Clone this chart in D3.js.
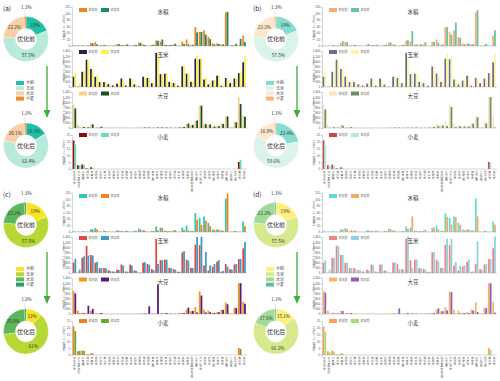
<!DOCTYPE html>
<html><head><meta charset="utf-8">
<script src="https://cdn.jsdelivr.net/npm/d3@7"></script>
<style>
body{margin:0;background:#fff}
text{font-family:"Noto Sans CJK SC","Noto Sans",sans-serif}
</style></head>
<body><svg id="c" width="500" height="381"></svg>
<script>
const categories = ["呼伦贝尔市","大兴安岭地区","兴安盟","通辽市","赤峰市","沈阳市","大连市","鞍山市","抚顺市","本溪市","丹东市","锦州市","营口市","阜新市","辽阳市","盘锦市","铁岭市","朝阳市","葫芦岛市","长春市","吉林市","四平市","辽源市","通化市","白山市","松原市","白城市","延边朝鲜族自治州","哈尔滨市","齐齐哈尔市","鸡西市","鹤岗市","双鸭山市","大庆市","伊春市","佳木斯市","七台河市","牡丹江市","黑河市","绥化市"];
const crops = ["水稻","玉米","大豆","小麦"];
const seriesNames = ["优化前","优化后"];
const panelLabels = ["(a)","(b)","(c)","(d)"];

const riceTicks = [0,20,40,60,80,100,120];
const maizeTicks = [0,200,400,600,800,1000,1200,1400];
const soyTicks = [0,200,400,600,800,1000,1200,1400];
const wheatTicks = [0,5,10,15,20,25];

const pieBefore = [19,57.5,22.2,1.3];
const pieAfterA = [16.3,62.4,20.1,1.2];
const pieAfterB = [22.4,59.6,16.8,1.1];
const pieAfterC = [12,61,25.8,1.2];
const pieAfterD = [15.1,66.2,17.6,1.1];

const riceBefore = [2,1,2,1,9,12,2,4,1,1,5,3,4,1,4,10,5,1,3,17,14,4,3,5,1,13,20,3,58,43,48,28,8,8,5,103,1,3,1,32];
const riceAfterA = [1,1,1,2,8,5,2,2,1,2,6,2,5,1,3,10,3,1,4,16,20,3,3,7,1,6,5,4,42,43,35,21,5,6,5,105,2,7,22,12];
const riceAfterB = [1,1,3,2,15,12,2,3,1,1,6,3,4,1,4,11,4,1,4,18,46,5,6,12,1,13,10,5,58,35,72,25,6,7,6,110,1,7,1,48];
const riceAfterC = [1,1,2,1,8,8,1,3,1,1,4,2,3,1,3,8,4,1,3,5,12,3,2,6,1,7,5,3,38,22,35,18,6,6,4,118,1,3,1,18];
const riceAfterD = [1,1,2,1,8,10,6,4,1,1,5,3,4,1,3,9,4,1,3,10,48,3,3,7,1,14,8,4,47,22,46,22,6,7,5,48,1,4,1,23];

const maizeBefore = [400,10,590,1060,700,400,190,190,110,60,130,330,60,330,100,20,400,350,150,1330,500,520,200,150,50,800,520,200,1100,1080,290,100,250,440,50,350,150,330,540,960];
const maizeAfterA = [550,140,620,1060,620,450,190,170,80,50,120,300,50,320,80,15,380,330,140,1250,500,540,190,140,50,850,550,190,1200,1120,380,160,290,450,50,300,150,360,560,1200];
const maizeAfterB = [620,100,600,1060,630,350,200,160,90,50,110,290,40,300,80,20,400,330,130,1100,480,520,180,140,40,760,480,180,1300,1200,300,170,280,420,50,320,150,350,560,1300];
const maizeAfterC = [550,130,650,680,680,430,190,190,80,50,120,290,50,290,80,15,420,320,110,350,500,520,190,130,50,850,480,190,1400,1400,820,300,350,500,80,250,130,350,550,1200];
const maizeAfterD = [500,130,590,1040,700,400,200,150,100,50,100,310,40,330,100,20,420,150,130,1420,180,530,180,130,40,820,450,200,1330,1330,430,280,300,520,60,1230,130,350,550,1420];

const soyBefore = [900,130,50,30,120,10,40,10,5,5,5,10,5,5,5,10,20,20,10,20,20,20,10,10,20,40,170,110,270,880,170,130,50,70,170,450,20,250,1200,480];
const soyAfterA = [760,10,40,30,140,10,50,5,5,5,5,5,5,5,5,10,20,20,10,20,20,20,10,10,20,40,170,120,290,870,150,140,60,70,160,450,10,220,930,440];
const soyAfterB = [720,10,30,20,100,10,40,5,5,5,5,5,5,5,5,10,20,20,10,20,20,20,10,10,20,40,90,100,80,820,40,70,60,60,170,420,10,180,1200,20];
const soyAfterC = [800,20,30,320,200,10,40,5,5,5,5,5,5,5,5,10,20,300,10,1150,20,40,10,10,20,40,250,120,60,720,60,70,40,70,160,380,10,230,1200,400];
const soyAfterD = [830,10,30,20,120,30,40,5,5,5,5,5,5,5,5,10,20,220,10,40,20,20,10,10,20,40,220,110,140,850,10,30,40,40,140,80,10,230,1200,50];

const wheatBefore = [21,2.8,3.2,0.5,1.3,0,0,0,0,0,0,0,0,0,0,0,0,0,0,0,0,0,0,0,0,0,0,0,0,0,0,0,0,0,0,0,0,0,5.2,0];
const wheatAfterA = [18,2.5,3.2,0.4,0.5,0,0,0,0,0,0,0,0,0,0,0,0,0,0,0,0,0,0,0,0,0,0,0,0,0,0,0,0,0,0,0,0,0,6.8,0];
const wheatAfterB = [17.5,2.2,2.8,0.4,1,0,0,0,0,0,0,0,0,0,0,0,0,0,0,0,0,0,0,0,0,0,0,0,0,0,0,0,0,0,0,0,0,0,4.5,0];
const wheatAfterC = [17.5,3,3,0.5,1,0,0,0,0,0,0,0,0,0,0,0,0,0,0,0,0,0,0,0,0,0,0,0,0,0,0,0,0,0,0,0,0,0,4.5,0];
const wheatAfterD = [17,2,2.5,0.5,1,0,0,0,0,0,0,0,0,0,0,0,0,0,0,0,0,0,0,0,0,0,0,0,0,0,0,0,0,0,0,0,0,0,4,0];

// colours
const pieColorsA = ["#22bfa6","#b9e9d9","#f9d0a6","#f58a25"];
const pieColorsB = ["#86dccd","#daf3eb","#fde7cf","#f8b684"];
const pieColorsC = ["#f8e325","#b7d834","#5cb65b","#229e6c"];
const pieColorsD = ["#fdf07c","#d6e98c","#a2db99","#67bba4"];
const barColorsA = [["#f5821f","#1e8a62"],["#262641","#fff04d"],["#fdcf92","#1d4d1d"],["#8b0d0d","#72dcae"]];
const barColorsB = [["#f6ac74","#6fc0a0"],["#6a6d8a","#fff6a3"],["#fde3c2","#6e8f62"],["#c24b4b","#aeeed4"]];
const barColorsC = [["#30c6b8","#f5821f"],["#e24a4a","#3c9fbf"],["#f5961e","#5b1a7d"],["#f57f20","#6aab32"]];
const barColorsD = [["#66dad2","#f9a863"],["#ef8585","#92d2de"],["#f9b468","#8e5fb4"],["#f9a456","#acd978"]];

const beforeSeries = [riceBefore, maizeBefore, soyBefore, wheatBefore];
const panels = [
  {ox:0, oy:0, pieAfter:pieAfterA, pieColors:pieColorsA, barColors:barColorsA, after:[riceAfterA,maizeAfterA,soyAfterA,wheatAfterA]},
  {ox:250, oy:0, pieAfter:pieAfterB, pieColors:pieColorsB, barColors:barColorsB, after:[riceAfterB,maizeAfterB,soyAfterB,wheatAfterB]},
  {ox:0, oy:186, pieAfter:pieAfterC, pieColors:pieColorsC, barColors:barColorsC, after:[riceAfterC,maizeAfterC,soyAfterC,wheatAfterC]},
  {ox:250, oy:186, pieAfter:pieAfterD, pieColors:pieColorsD, barColors:barColorsD, after:[riceAfterD,maizeAfterD,soyAfterD,wheatAfterD]}
];
const tickSets = [riceTicks, maizeTicks, soyTicks, wheatTicks];
const subLayout = [{top:7,bottom:46,title:5.5,leg:3},{top:51,bottom:87,title:4.5,leg:1},{top:92,bottom:128,title:4,leg:1.5},{top:135,bottom:169,title:2.5,leg:0}];

const svg = d3.select("#c");
const x = d3.scaleBand().domain(categories).range([72,246.5]).paddingInner(0.18).paddingOuter(0.15);
const x1 = d3.scaleBand().domain([0,1]).range([0, x.bandwidth()]);

function drawPie(g, vals, colors, cx, cy, centerText){
  const rO = 22.5, rI = 10.5;
  const pie = d3.pie().sort(null).value(d=>d);
  const arcs = pie(vals);
  const arc = d3.arc().innerRadius(rI).outerRadius(rO);
  const pg = g.append("g").attr("transform",`translate(${cx},${cy})`);
  pg.selectAll("path").data(arcs).join("path").attr("d",arc).attr("fill",(d,i)=>colors[i]).attr("stroke","#fff").attr("stroke-width",0.3);
  const lab = d3.arc().innerRadius(16.5).outerRadius(16.5);
  arcs.forEach((a,i)=>{
    if(i<3){
      const c = lab.centroid(a);
      pg.append("text").attr("x",c[0]).attr("y",c[1]).attr("dy","0.35em").attr("text-anchor","middle")
        .attr("font-size",4.6).attr("fill","#333").text(vals[i]+"%");
    } else {
      const m = (a.startAngle+a.endAngle)/2;
      const p1 = [Math.sin(m)*rO, -Math.cos(m)*rO];
      const p2 = [Math.sin(m)*(rO+6), -Math.cos(m)*(rO+6)];
      pg.append("line").attr("x1",p1[0]).attr("y1",p1[1]).attr("x2",p2[0]).attr("y2",p2[1]).attr("stroke","#aaa").attr("stroke-width",0.3);
      pg.append("text").attr("x",p2[0]+1.5).attr("y",p2[1]-2).attr("text-anchor","middle")
        .attr("font-size",4.6).attr("fill","#333").text(vals[i]+"%");
    }
  });
  pg.append("text").attr("x",0).attr("y",0).attr("dy","0.35em").attr("text-anchor","middle").attr("font-size",6).attr("fill","#333").text(centerText);
}

panels.forEach((p,pi)=>{
  const g = svg.append("g").attr("transform",`translate(${p.ox},${p.oy})`);
  g.append("text").attr("x",3).attr("y",11).attr("font-size",6.5).attr("fill","#222").text(panelLabels[pi]);
  drawPie(g, pieBefore, p.pieColors, 26, 39, seriesNames[0]);
  drawPie(g, p.pieAfter, p.pieColors, 26, 145.5, seriesNames[1]);
  // arrow
  g.append("line").attr("x1",47).attr("y1",66).attr("x2",47).attr("y2",111).attr("stroke","#3cae3a").attr("stroke-width",1.3);
  g.append("path").attr("d","M43.6,110 L50.4,110 L47,118 Z").attr("fill","#3cae3a");
  // pie legend
  crops.forEach((c,i)=>{
    g.append("rect").attr("x",16).attr("y",81+i*5.2).attr("width",8).attr("height",4).attr("fill",p.pieColors[i]);
    g.append("text").attr("x",26).attr("y",83+i*5.2).attr("dy","0.35em").attr("font-size",4).attr("fill","#444").text(c);
  });
  // bar subplots
  crops.forEach((crop,ci)=>{
    const L = subLayout[ci];
    const ticks = tickSets[ci];
    const y = d3.scaleLinear().domain([0, ticks[ticks.length-1]]).range([L.bottom, L.top]);
    const sg = g.append("g");
    const series = [beforeSeries[ci], p.after[ci]];
    series.forEach((arr,si)=>{
      sg.append("g").selectAll("rect").data(arr).join("rect")
        .attr("x",(d,i)=>x(categories[i])+x1(si))
        .attr("width",x1.bandwidth())
        .attr("y",d=>y(d))
        .attr("height",d=>L.bottom-y(d))
        .attr("fill",p.barColors[ci][si]);
    });
    const ax = sg.append("g").attr("transform","translate(72,0)")
      .call(d3.axisLeft(y).tickValues(ticks).tickSize(1).tickPadding(0.8));
    ax.selectAll("text").attr("font-size",3).attr("fill","#555").style("font-family","'Liberation Sans',Arial,sans-serif");
    ax.selectAll("line,path").attr("stroke","#999").attr("stroke-width",0.4);
    sg.append("line").attr("x1",72).attr("x2",247).attr("y1",L.bottom).attr("y2",L.bottom).attr("stroke","#999").attr("stroke-width",0.4);
    // y label
    sg.append("text").attr("transform",`translate(64.5,${(L.top+L.bottom)/2}) rotate(-90)`).attr("text-anchor","middle")
      .attr("font-size",2.6).attr("fill","#555").text("种植面积（×10³hm²）");
    // title
    sg.append("text").attr("x",163).attr("y",L.top+L.title).attr("dy","0.35em").attr("text-anchor","middle")
      .attr("font-size",5.5).attr("fill","#333").text(crop);
    // legend
    seriesNames.forEach((s,si)=>{
      const lx = 79 + si*22;
      sg.append("rect").attr("x",lx).attr("y",L.top+L.leg-2).attr("width",8).attr("height",4).attr("fill",p.barColors[ci][si]);
      sg.append("text").attr("x",lx+9.5).attr("y",L.top+L.leg).attr("dy","0.35em").attr("font-size",3).attr("fill","#555").text(s);
    });
    if(ci===3){
      categories.forEach(c=>{
        const t = sg.append("text").attr("text-anchor","middle").attr("font-size",2.7).attr("fill","#555");
        const cx = x(c)+x.bandwidth()/2;
        Array.from(c).forEach((ch,k)=>{
          t.append("tspan").attr("x",cx).attr("y",L.bottom+4+k*2.75).text(ch);
        });
      });
    }
  });
});
</script></body></html>
